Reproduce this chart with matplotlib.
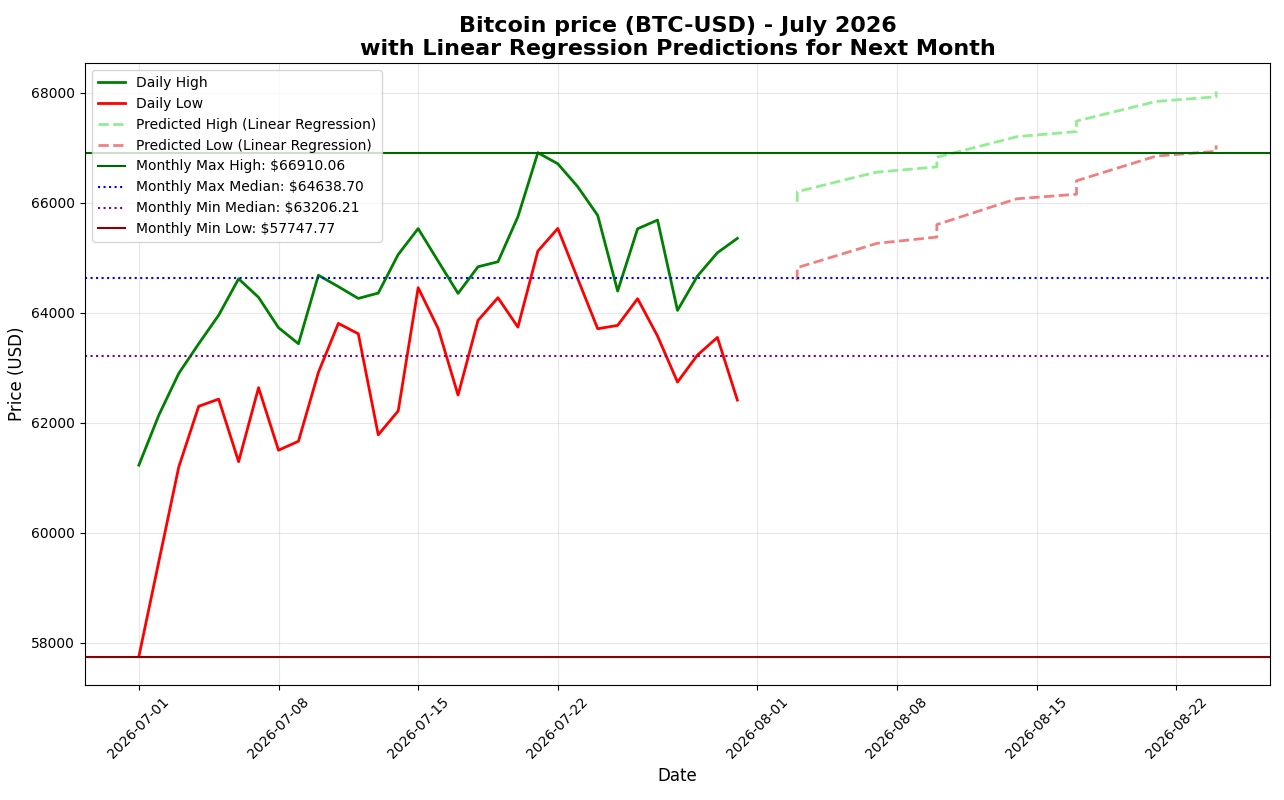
import pandas as pd
import matplotlib
matplotlib.use("Agg")
import matplotlib.pyplot as plt
import matplotlib.dates as mdates

# July 2026 daily highs / lows
dates = pd.date_range("2026-07-01", "2026-07-31", freq="D")

daily_high = [61228, 62137, 62897, 63436, 63955, 64617, 64280, 63728, 63436, 64682,
              64475, 64260, 64358, 65059, 65530, 64939, 64352, 64836, 64927, 65745,
              66910.06, 66709, 66291, 65770, 64394, 65527, 65685, 64042, 64667, 65091,
              65352]

daily_low = [57747.77, 59474, 61195, 62299, 62429, 61292, 62637, 61500, 61663, 62916,
             63806, 63617, 61780, 62215, 64455, 63715, 62503, 63861, 64273, 63739,
             65121, 65533, 64618, 63709, 63770, 64255, 63576, 62739, 63230, 63551,
             62412]

# predictions (business days, each Monday appears twice: end of old week / start of new)
pred_dates = pd.to_datetime([
    "2026-08-03", "2026-08-03", "2026-08-04", "2026-08-05", "2026-08-06", "2026-08-07",
    "2026-08-10", "2026-08-10", "2026-08-11", "2026-08-12", "2026-08-13", "2026-08-14",
    "2026-08-17", "2026-08-17", "2026-08-18", "2026-08-19", "2026-08-20", "2026-08-21",
    "2026-08-24", "2026-08-24",
])

pred_high = [66018, 66200, 66291, 66381, 66472, 66557,
             66652, 66828, 66921, 67014, 67107, 67201,
             67295, 67485, 67575, 67664, 67754, 67843,
             67927, 68024]

pred_low = [64596, 64820, 64930, 65041, 65151, 65262,
            65376, 65603, 65720, 65837, 65955, 66072,
            66155, 66400, 66512, 66625, 66737, 66850,
            66935, 67044]

max_high = 66910.06
max_median = 64638.70
min_median = 63206.21
min_low = 57747.77

fig, ax = plt.subplots(figsize=(12.84, 8), dpi=100)
fig.subplots_adjust(left=0.0662, right=0.9891, top=0.921, bottom=0.144)

ax.plot(dates, daily_high, color="green", linewidth=2, label="Daily High")
ax.plot(dates, daily_low, color="red", linewidth=2, label="Daily Low")
ax.plot(pred_dates, pred_high, color="lightgreen", linestyle="--", linewidth=2,
        label="Predicted High (Linear Regression)")
ax.plot(pred_dates, pred_low, color="lightcoral", linestyle="--", linewidth=2,
        label="Predicted Low (Linear Regression)")

ax.axhline(max_high, color="darkgreen", linestyle="-", linewidth=1.5,
           label=f"Monthly Max High: ${max_high:.2f}")
ax.axhline(max_median, color="blue", linestyle=":", linewidth=1.5,
           label=f"Monthly Max Median: ${max_median:.2f}")
ax.axhline(min_median, color="purple", linestyle=":", linewidth=1.5,
           label=f"Monthly Min Median: ${min_median:.2f}")
ax.axhline(min_low, color="darkred", linestyle="-", linewidth=1.5,
           label=f"Monthly Min Low: ${min_low:.2f}")

ax.set_title("Bitcoin price (BTC-USD) - July 2026\nwith Linear Regression Predictions for Next Month",
             fontsize=16, fontweight="bold")
ax.set_xlabel("Date", fontsize=12)
ax.set_ylabel("Price (USD)", fontsize=12)

ax.xaxis.set_major_locator(mdates.DayLocator(bymonthday=[1, 8, 15, 22]))
ax.xaxis.set_major_formatter(mdates.DateFormatter("%Y-%m-%d"))
plt.setp(ax.get_xticklabels(), rotation=45)

ax.grid(True, alpha=0.3)
ax.legend(loc="upper left")

plt.savefig("out.png", dpi=100)
